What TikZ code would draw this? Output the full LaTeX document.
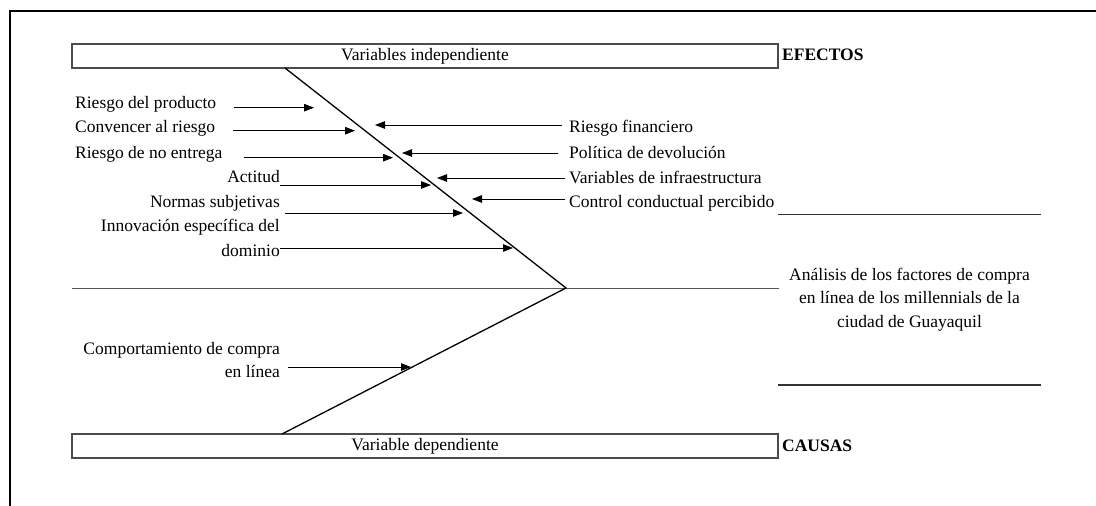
\documentclass[tikz,border=0pt]{standalone}
\usepackage{fontspec}
\setmainfont{Liberation Serif}
\usetikzlibrary{arrows.meta}
\begin{document}
\begin{tikzpicture}[x=1pt,y=-1pt,
  txt/.style={inner sep=0pt,font=\fontsize{17.5}{23.5}\selectfont,text=black},
  lbl/.style={txt,text height=0.6em,text depth=0.3em,yshift=-2.8pt},
  hdr/.style={lbl,font=\fontsize{17.5}{23.5}\selectfont\bfseries},
  band/.style={draw=black!70,line width=1.5pt,inner sep=0pt},
  bone/.style={draw=black,line width=1.3pt},
  arr/.style={draw=black,line width=1pt,-{Triangle[length=10pt,width=7.5pt]}}]
\useasboundingbox (0,0) rectangle (1096,506);

% page frame (top and left edges)
\draw[line width=2.5pt] (1096,11) -- (10,11) -- (10,506);

% heading bands
\node[band,minimum width=706pt,minimum height=24pt] (ind) at (425,56) {};
\node[lbl] (indtxt) at (425,56) {Variables independiente};
\node[band,minimum width=706pt,minimum height=24pt] (dep) at (425,446) {};
\node[lbl] (deptxt) at (425,446) {Variable dependiente};
\node[hdr,anchor=west] (efe) at (782,56) {EFECTOS};
\node[hdr,anchor=west] (cau) at (782,447) {CAUSAS};

% spine and the two main bones
\coordinate (tail) at (72,288);
\coordinate (head) at (566,288);
\coordinate (spineend) at (779,288);
\coordinate (topbone) at (285,68);
\coordinate (botbone) at (282,434);
\draw[draw=black!65,line width=1pt] (tail) -- (spineend);
\draw[bone] (topbone) -- (head) -- (botbone);

% outcome block
\coordinate (ra) at (778,214);
\coordinate (rb) at (1041,214);
\coordinate (rc) at (778,385);
\coordinate (rd) at (1041,385);
\draw[line width=1pt,draw=black!80] (ra) -- (rb);
\draw[line width=2pt,draw=black!80] (rc) -- (rd);
\node[lbl] (g1) at (909.5,276) {Análisis de los factores de compra};
\node[lbl] (g2) at (909.5,299) {en línea de los millennials de la};
\node[lbl] (g3) at (909.5,323) {ciudad de Guayaquil};

% causes on the left of the upper bone
\node[lbl,anchor=west] (l1) at (75,104) {Riesgo del producto};
\node[lbl,anchor=west] (l2) at (75,128) {Convencer al riesgo};
\node[lbl,anchor=west] (l3) at (75,154) {Riesgo de no entrega};
\node[lbl,anchor=east] (l4) at (280,178) {Actitud};
\node[lbl,anchor=east] (l5) at (280,203) {Normas subjetivas};
\node[lbl,anchor=east] (l6a) at (280,227) {Innovación específica del};
\node[lbl,anchor=east] (l6b) at (280,252) {dominio};

\coordinate (s1) at (234,107.7); \coordinate (t1) at (314,107.7);
\coordinate (s2) at (233,130.7); \coordinate (t2) at (355,130.7);
\coordinate (s3) at (244,157.7); \coordinate (t3) at (393,157.7);
\coordinate (s4) at (280,185);   \coordinate (t4) at (431,185);
\coordinate (s5) at (285,213);   \coordinate (t5) at (463,213);
\coordinate (s6) at (280,248);   \coordinate (t6) at (513,248);
\foreach \i in {1,...,6} \draw[arr] (s\i) -- (t\i);

% causes on the right of the upper bone
\node[lbl,anchor=west] (r1) at (569,128) {Riesgo financiero};
\node[lbl,anchor=west] (r2) at (569,154) {Política de devolución};
\node[lbl,anchor=west] (r3) at (569,179) {Variables de infraestructura};
\node[lbl,anchor=west] (r4) at (569,203) {Control conductual percibido};

\coordinate (u1) at (562,125); \coordinate (v1) at (375,125);
\coordinate (u2) at (558,153); \coordinate (v2) at (402,153);
\coordinate (u3) at (565,178); \coordinate (v3) at (437,178);
\coordinate (u4) at (565,199); \coordinate (v4) at (472,199);
\foreach \i in {1,...,4} \draw[arr] (u\i) -- (v\i);

% cause on the lower bone
\node[lbl,anchor=east] (c1a) at (280,350) {Comportamiento de compra};
\node[lbl,anchor=east] (c1b) at (280,373) {en línea};
\coordinate (w1) at (288,367); \coordinate (w2) at (411,367);
\draw[arr] (w1) -- (w2);
\end{tikzpicture}
\end{document}
